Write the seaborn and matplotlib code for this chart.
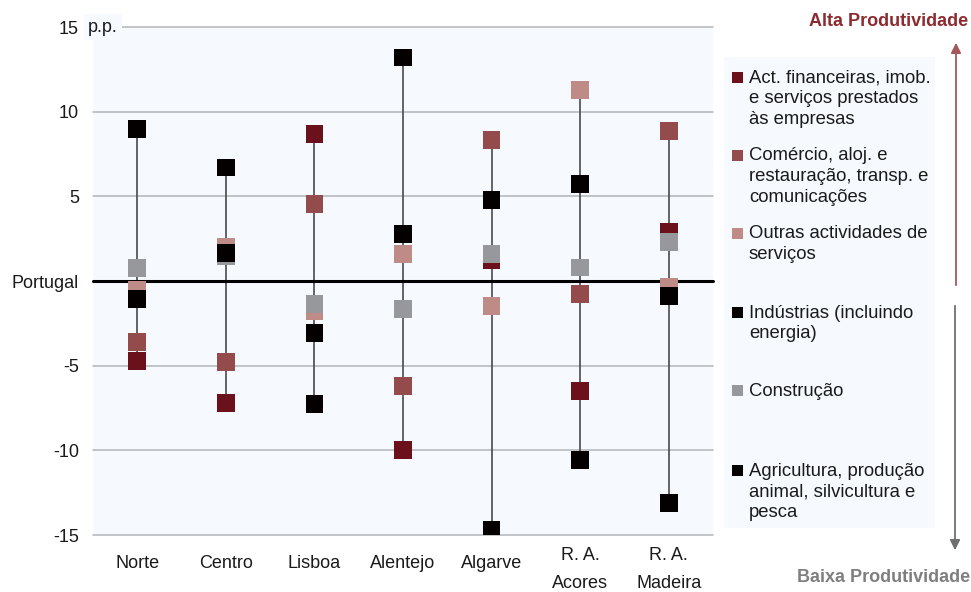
import matplotlib
matplotlib.use("Agg")
import matplotlib.pyplot as plt
from matplotlib.patches import Rectangle, FancyArrowPatch
from matplotlib.transforms import ScaledTranslation
import numpy as np
import pandas as pd
import seaborn as sns

# Regions and sector deviations from the national level (p.p.)
regions = ["Norte", "Centro", "Lisboa", "Alentejo", "Algarve", "R. A.\nAcores", "R. A.\nMadeira"]
act_financeiras = [-4.7, -7.2, 8.7, -10.0, 1.25, -6.5, 2.9]
comercio = [-3.6, -4.8, 4.55, -6.2, 8.35, -0.75, 8.85]
outras_servicos = [-0.5, 2.0, -1.75, 1.6, -1.5, 11.3, -0.35]
construcao = [0.75, 1.5, -1.35, -1.65, 1.6, 0.8, 2.3]
industrias = [-1.05, 1.65, -3.05, 2.8, 4.8, 5.75, -0.9]
agricultura = [9.0, 6.7, -7.25, 13.2, -14.7, -10.55, -13.1]

series_names = [
    "Act. financeiras, imob.\ne serviços prestados\nàs empresas",
    "Comércio, aloj. e\nrestauração, transp. e\ncomunicações",
    "Outras actividades de\nserviços",
    "Indústrias (incluindo\nenergia)",
    "Construção",
    "Agricultura, produção\nanimal, silvicultura e\npesca",
]
series_values = [act_financeiras, comercio, outras_servicos, industrias, construcao, agricultura]
series_colors = ["#6B111B", "#934C4B", "#BF8B87", "#050000", "#97989C", "#050000"]
# drawing order: later rows sit on top
draw_order = [0, 1, 2, 4, 3, 5]

y_ticks = [-15, -10, -5, 0, 5, 10, 15]
y_ticklabels = ["-15", "-10", "-5", "Portugal", "5", "10", "15"]

BG = "#F6FAFE"
W, H = 971, 592

sns.set_theme(style="white")
plt.rcParams["font.family"] = ["Liberation Sans", "DejaVu Sans"]

fig = plt.figure(figsize=(W / 100, H / 100), dpi=100)
fig.patch.set_facecolor("white")


def fx(x):
    return x / W


def fy(y):
    return 1 - y / H


ax = fig.add_axes([fx(93), fy(535), (713 - 93) / W, (535 - 27) / H])
ax.set_facecolor(BG)

rows = []
for i in draw_order:
    for r, v in zip(regions, series_values[i]):
        rows.append({"region": r, "value": v, "serie": series_names[i]})
df = pd.DataFrame(rows)

pos = {r: k for k, r in enumerate(regions)}
df["x"] = df["region"].map(pos)

# range line per region
rng = df.groupby("x")["value"].agg(["min", "max"]).reset_index()
ax.vlines(rng["x"], rng["min"], rng["max"], color="#4A4A4A", lw=1.2, zorder=2)

# gridlines and national reference
for t in y_ticks:
    if t == 0:
        continue
    ax.axhline(t, color="#B3B5B8", lw=1.1, zorder=1, clip_on=False)
ax.axhline(0, color="black", lw=2.2, zorder=2.5, clip_on=False)

palette = {n: c for n, c in zip(series_names, series_colors)}
sns.scatterplot(data=df, x="x", y="value", hue="serie", palette=palette,
                marker="s", s=165, linewidth=0, ax=ax, legend=False, zorder=3)

ax.set_xlim(-0.5, 6.5)
ax.set_ylim(-15, 15)
ax.set_xticks(range(len(regions)))
ax.set_xticklabels(regions, fontsize=13, color="#1A1A1A", linespacing=1.8)
ax.set_yticks(y_ticks)
ax.set_yticklabels(y_ticklabels, fontsize=13, color="#1A1A1A")
ax.tick_params(axis="x", length=0, pad=9)
ax.tick_params(axis="y", length=0, pad=10)
ax.set_xlabel("")
ax.set_ylabel("")
for s in ax.spines.values():
    s.set_visible(False)

# single-line region names sit a little lower than the two-line ones
for lab in ax.get_xticklabels():
    if "\n" not in lab.get_text():
        lab.set_transform(lab.get_transform() + ScaledTranslation(0, -8 / 100, fig.dpi_scale_trans))

fig.text(fx(88), fy(27), "p.p.", fontsize=13, color="#1A1A1A", ha="left", va="center",
         bbox=dict(facecolor=BG, edgecolor="none", pad=3))

# side key panel
lax = fig.add_axes([fx(724), fy(528), (935 - 724) / W, (528 - 57) / H])
lax.set_facecolor(BG)
lax.set_xlim(724, 935)
lax.set_ylim(528, 57)
lax.set_xticks([])
lax.set_yticks([])
for s in lax.spines.values():
    s.set_visible(False)

entry_y = [77, 155, 233, 312, 390, 470]
for name, col, yc in zip(series_names, series_colors, entry_y):
    lax.add_patch(Rectangle((732.5, yc - 5.5), 11, 11, facecolor=col, edgecolor="none"))
    lax.text(749, yc - 7.5, name, fontsize=13.3, color="#1A1A1A", ha="left", va="top",
             linespacing=1.27)

# productivity direction arrows
fig.patches.append(FancyArrowPatch(
    (fx(956), fy(288)), (fx(956), fy(40)), transform=fig.transFigure,
    arrowstyle="-|>,head_length=6,head_width=3", color="#A4585B", lw=1.3, mutation_scale=1))
fig.patches.append(FancyArrowPatch(
    (fx(955), fy(303)), (fx(955), fy(553)), transform=fig.transFigure,
    arrowstyle="-|>,head_length=6,head_width=3", color="#6F6F6F", lw=1.3, mutation_scale=1))

fig.text(fx(968), fy(22), "Alta Produtividade", fontsize=13, fontweight="bold",
         color="#8C2B30", ha="right", va="center")
fig.text(fx(970), fy(578), "Baixa Produtividade", fontsize=13, fontweight="bold",
         color="#7F7F7F", ha="right", va="center")

fig.savefig("out.png", dpi=100, facecolor="white")
